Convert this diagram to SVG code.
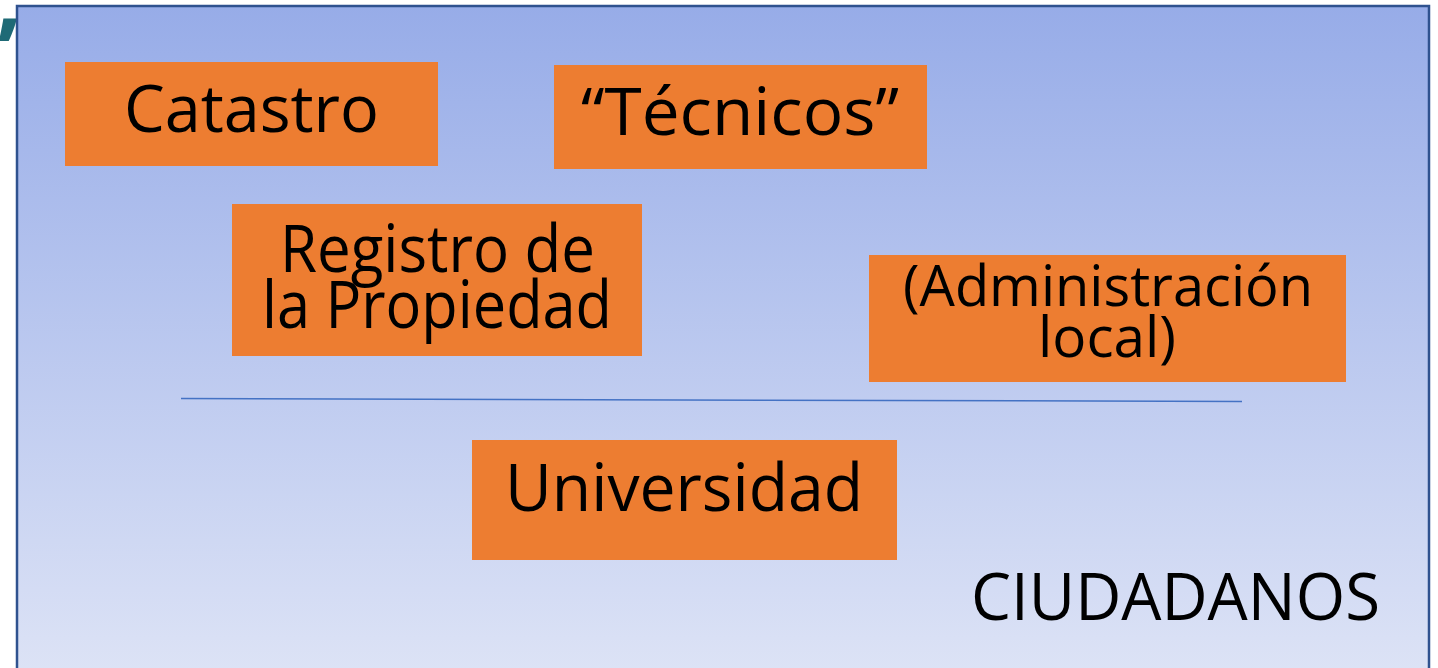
<svg xmlns="http://www.w3.org/2000/svg" width="1438" height="668" viewBox="0 0 1438 668">
<defs>
<linearGradient id="bg" x1="0" y1="0" x2="0" y2="1">
<stop offset="0" stop-color="#97ACE8"/>
<stop offset="1" stop-color="#DEE4F6"/>
</linearGradient>
</defs>
<style>
.box{fill:#ED7D31}
.t{font-family:"Open Sans","Noto Sans","Liberation Sans",sans-serif;fill:#000;font-size:66px}
.s{font-size:56.5px}
</style>
<rect x="0" y="0" width="1438" height="668" fill="#fff"/>
<text x="-4" y="29" font-family="Open Sans, sans-serif" font-weight="bold" font-size="92" fill="#1F6A76">,</text>
<g id="frame">
<rect x="17" y="6" width="1412" height="680" fill="url(#bg)" stroke="#2F528F" stroke-width="2.5"/>
</g>
<g id="connectors">
<line x1="181" y1="398.5" x2="1242" y2="401.5" stroke="#4472C4" stroke-width="1.5"/>
</g>
<g id="catastro">
<rect class="box" x="65" y="62" width="373" height="104"/>
<text class="t" x="124" y="132.3" textLength="255" lengthAdjust="spacingAndGlyphs">Catastro</text>
</g>
<g id="tecnicos">
<rect class="box" x="554" y="65" width="373" height="104"/>
<text class="t" x="581" y="135.3" textLength="318" lengthAdjust="spacingAndGlyphs">“Técnicos”</text>
</g>
<g id="registro">
<rect class="box" x="232" y="204" width="410" height="152"/>
<text class="t" x="280" y="272" textLength="315" lengthAdjust="spacingAndGlyphs">Registro de</text>
<text class="t" x="262" y="327.7" textLength="350" lengthAdjust="spacingAndGlyphs">la Propiedad</text>
</g>
<g id="admin">
<rect class="box" x="869" y="255" width="477" height="127"/>
<text class="t s" x="903" y="306" textLength="410" lengthAdjust="spacingAndGlyphs">(Administración</text>
<text class="t s" x="1038" y="357.3" textLength="138" lengthAdjust="spacingAndGlyphs">local)</text>
</g>
<g id="universidad">
<rect class="box" x="472" y="440" width="425" height="120"/>
<text class="t" x="505" y="511.3" textLength="358" lengthAdjust="spacingAndGlyphs">Universidad</text>
</g>
<g id="ciudadanos">
<text class="t" x="971" y="620" textLength="409" lengthAdjust="spacingAndGlyphs">CIUDADANOS</text>
</g>
</svg>
